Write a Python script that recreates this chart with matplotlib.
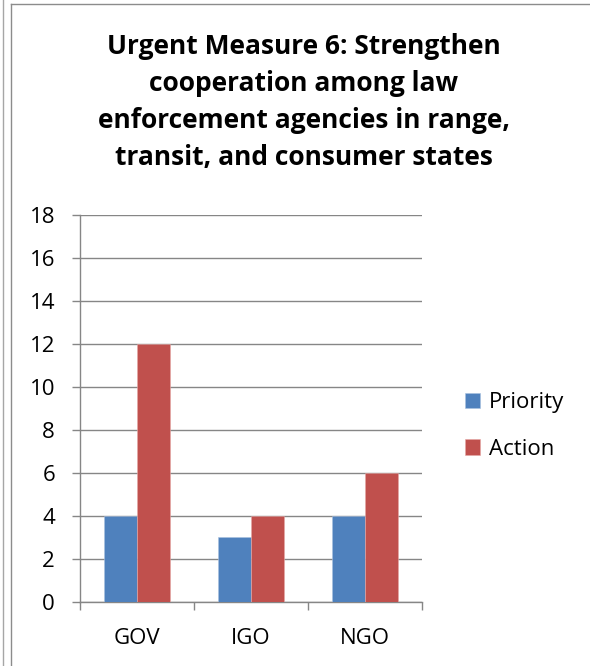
import numpy as np
import matplotlib.pyplot as plt
from matplotlib.lines import Line2D

plt.rcParams['font.family'] = ['Open Sans', 'DejaVu Sans']

groups = ['GOV', 'IGO', 'NGO']
priority = [4, 3, 4]
action = [12, 4, 6]
yticks = [0, 2, 4, 6, 8, 10, 12, 14, 16, 18]

W, H = 590, 666
fig = plt.figure(figsize=(W / 100, H / 100), dpi=100)

# outer frames along the left and top edge
def px_line(x0, y0, x1, y1, c):
    fig.add_artist(Line2D([x0 / W, x1 / W], [1 - y0 / H, 1 - y1 / H],
                          transform=fig.transFigure, color=c, lw=1.0))

px_line(3, 0, 3, H, '#a6a6a6')
px_line(11, 4, 11, H, '#8c8c8c')
px_line(11, 4, W, 4, '#8c8c8c')

ax = fig.add_axes([80 / W, 1 - 601.7 / H, 342 / W, 387 / H])

x = np.arange(len(groups))
bw = 1 / 3.5
ax.bar(x - bw / 2, priority, bw, color='#4f81bd', edgecolor='#a9c1e0',
       linewidth=0.4, label='Priority', zorder=3)
ax.bar(x + bw / 2, action, bw, color='#c0504d', edgecolor='#e6a8a6',
       linewidth=0.4, label='Action', zorder=3)

ax.set_xlim(-0.5, 2.5)
ax.set_ylim(0, 18)
ax.set_yticks(yticks)
ax.yaxis.grid(True, color='#868686', lw=1.0, zorder=0)
ax.set_axisbelow(True)

ax.set_xticks([-0.5, 0.5, 1.5, 2.5])
ax.set_xticklabels([])
ax.set_xticks(x, minor=True)
ax.set_xticklabels(groups, minor=True)
ax.tick_params(axis='x', which='major', length=6, width=1.0, color='#868686',
               direction='out')
ax.tick_params(axis='x', which='minor', length=0, pad=19, labelsize=16)
ax.tick_params(axis='y', length=6, width=1.0, color='#868686', pad=12,
               labelsize=16)

for s in ['top', 'right']:
    ax.spines[s].set_visible(False)
for s in ['left', 'bottom']:
    ax.spines[s].set_color('#868686')
    ax.spines[s].set_linewidth(1.0)

fig.text(304 / W, 1 - 102 / H,
         'Urgent Measure 6: Strengthen\ncooperation among law\n'
         'enforcement agencies in range,\ntransit, and consumer states',
         ha='center', va='center', fontsize=19, fontweight='bold',
         linespacing=1.47)

fig.legend(loc='center left', bbox_to_anchor=(465 / W, 1 - 426 / H),
           frameon=False, fontsize=16, handlelength=0.68, handleheight=0.68,
           handletextpad=0.4, labelspacing=1.15, borderpad=0,
           borderaxespad=0)

fig.savefig('out.png', dpi=100)
